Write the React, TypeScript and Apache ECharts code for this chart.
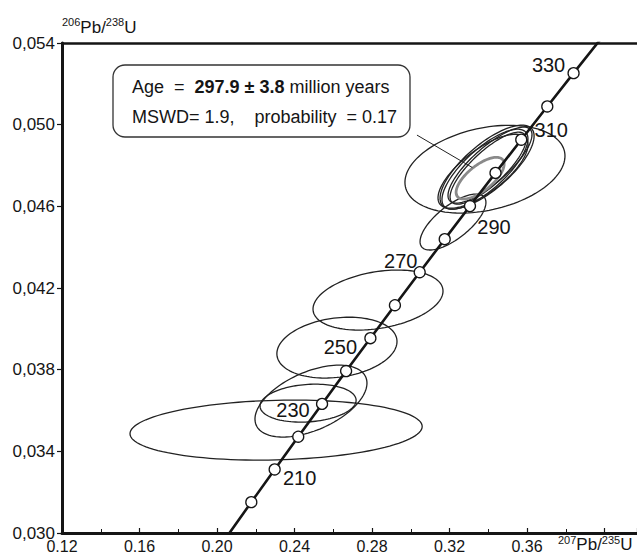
import React, { useEffect, useRef } from 'react';
import * as echarts from 'echarts';

// Concordia curve (age in Ma, 207Pb/235U, 206Pb/238U)
const concordiaAges = [190, 200, 210, 220, 230, 240, 250, 260, 270, 280, 290, 300, 310, 320, 330, 340];
const concordiaX = [0.205773, 0.217708, 0.229759, 0.241931, 0.254222, 0.266635, 0.279172, 0.291831, 0.304616, 0.317529, 0.330569, 0.343738, 0.357037, 0.370468, 0.38403, 0.39773];
const concordiaY = [0.029912, 0.031511, 0.033113, 0.034716, 0.036323, 0.037932, 0.039543, 0.041157, 0.042773, 0.044392, 0.046013, 0.047637, 0.049264, 0.050893, 0.052524, 0.054158];
const markerAges = [200, 210, 220, 230, 240, 250, 260, 270, 280, 290, 300, 310, 320, 330];
const labelledAges = [210, 230, 250, 270, 290, 310, 330];

// Analysis error ellipses: centre, half-widths, error correlation
const ellipseCx = [0.2305, 0.2485, 0.2470, 0.2619, 0.2831, 0.3218, 0.3383, 0.3394, 0.3383, 0.3409, 0.3373, 0.3399];
const ellipseCy = [0.03504, 0.03646, 0.03636, 0.03908, 0.04141, 0.04523, 0.04782, 0.04792, 0.04782, 0.04802, 0.04772, 0.04787];
const ellipseSx = [0.0754, 0.0289, 0.0248, 0.0310, 0.03355, 0.0170, 0.0413, 0.02426, 0.02219, 0.02168, 0.02323, 0.01961];
const ellipseSy = [0.00147, 0.00176, 0.00093, 0.00149, 0.00147, 0.00137, 0.00215, 0.002056, 0.001958, 0.00186, 0.001812, 0.001763];
const ellipseRho = [0.12, 0.5, 0.15, 0.2, 0.3, 0.7, 0.3, 0.74, 0.76, 0.8, 0.72, 0.8];

// Concordia age ellipse (weighted mean)
const meanCx = [0.3358];
const meanCy = [0.04738];
const meanSx = [0.0124];
const meanSy = [0.00102];
const meanRho = [0.68];

// Axis ticks
const xTickLabels = ['0.12', '0.16', '0.20', '0.24', '0.28', '0.32', '0.36'];
const yTickLabels = ['0,030', '0,034', '0,038', '0,042', '0,046', '0,050', '0,054'];

// Annotation arrow
const arrowFrom = [0.3032, 0.04949];
const arrowTo = [0.3318, 0.0479];

const FONT = "'Liberation Sans', Arial, Helvetica, sans-serif";
const INK = '#151515';

const labelOffsets: Record<number, [number, number]> = {
  330: [-25, -8],
  310: [30, -10],
  290: [24, 21],
  270: [-19, -11],
  250: [-30, 9],
  230: [-29, 6],
  210: [25, 9],
};

function ellipseRenderer(stroke: string, width: number) {
  return (params: any, api: any) => {
    const cx = api.value(0);
    const cy = api.value(1);
    const sx = api.value(2);
    const sy = api.value(3);
    const rho = api.value(4);
    const k = Math.sqrt(1 - rho * rho);
    const pts: number[][] = [];
    const n = 120;
    for (let i = 0; i < n; i++) {
      const t = (i / n) * Math.PI * 2;
      const x = cx + sx * Math.cos(t);
      const y = cy + sy * (rho * Math.cos(t) + k * Math.sin(t));
      pts.push(api.coord([x, y]));
    }
    return {
      type: 'polygon',
      shape: { points: pts },
      style: { fill: 'none', stroke, lineWidth: width },
    };
  };
}

export default function App() {
  const ref = useRef<HTMLDivElement>(null);

  useEffect(() => {
    if (!ref.current) return;
    const chart = echarts.init(ref.current, null, { renderer: 'svg' });

    const xMin = 0.12;
    const xMax = 0.41677;

    const ellipseData = ellipseCx.map((cx, i) => [cx, ellipseCy[i], ellipseSx[i], ellipseSy[i], ellipseRho[i]]);
    const meanData = meanCx.map((cx, i) => [cx, meanCy[i], meanSx[i], meanSy[i], meanRho[i]]);
    const lineData = concordiaAges.map((a, i) => [concordiaX[i], concordiaY[i]]);
    const markerData = markerAges.map((age) => {
      const i = concordiaAges.indexOf(age);
      const labelled = labelledAges.includes(age);
      return {
        value: [concordiaX[i], concordiaY[i]],
        label: labelled
          ? { show: true, formatter: String(age), offset: labelOffsets[age] }
          : { show: false },
      };
    });

    const option: any = {
      animation: false,
      textStyle: { fontFamily: FONT },
      grid: { left: 62, right: 0, top: 43, bottom: 23, containLabel: false, outerBoundsMode: 'none' },
      xAxis: [
        {
          type: 'value',
          min: xMin,
          max: xMax,
          interval: 0.04,
          name: '{s|207}{n|Pb/}{s|235}{n|U}',
          nameLocation: 'end',
          nameGap: -79,
          nameTextStyle: {
            align: 'left',
            verticalAlign: 'top',
            padding: [1, 0, 0, 0],
            rich: {
              n: { fontSize: 17, lineHeight: 20, color: INK, fontFamily: FONT },
              s: { fontSize: 11, lineHeight: 10, color: INK, fontFamily: FONT, verticalAlign: 'top' },
            },
          },
          splitLine: { show: false },
          axisLine: { show: true, onZero: false, lineStyle: { color: INK, width: 3 } },
          axisTick: { show: true, inside: true, length: 5, lineStyle: { color: INK, width: 1.2 } },
          minorTick: { show: true, splitNumber: 2, length: 4, lineStyle: { color: INK, width: 1 } },
          axisLabel: {
            margin: 5,
            fontSize: 16,
            color: INK,
            fontFamily: FONT,
            formatter: (v: number) => {
              const s = v.toFixed(2);
              return xTickLabels.includes(s) ? s : '';
            },
          },
        },
        {
          type: 'value',
          position: 'top',
          min: xMin,
          max: xMax,
          interval: 0.04,
          axisLine: { show: true, onZero: false, lineStyle: { color: INK, width: 2.5 } },
          axisTick: { show: false },
          axisLabel: { show: false },
          splitLine: { show: false },
        },
      ],
      yAxis: {
        type: 'value',
        min: 0.03,
        max: 0.054,
        interval: 0.004,
        name: '{s|206}{n|Pb/}{s|238}{n|U}',
        nameLocation: 'end',
        nameGap: 5,
        nameTextStyle: {
          align: 'left',
          verticalAlign: 'bottom',
          rich: {
            n: { fontSize: 17, lineHeight: 22, color: INK, fontFamily: FONT },
            s: { fontSize: 11, lineHeight: 10, color: INK, fontFamily: FONT, verticalAlign: 'top' },
          },
        },
        splitLine: { show: false },
        axisLine: { show: true, onZero: false, lineStyle: { color: INK, width: 3 } },
        axisTick: { show: true, inside: false, length: 5, lineStyle: { color: INK, width: 1.2 } },
        axisLabel: {
          margin: 7,
          fontSize: 17,
          color: INK,
          fontFamily: FONT,
          formatter: (v: number) => {
            const s = v.toFixed(3).replace('.', ',');
            return yTickLabels.includes(s) ? s : '';
          },
        },
      },
      series: [
        {
          type: 'custom',
          name: 'analyses',
          z: 2,
          silent: true,
          dimensions: ['cx', 'cy', 'sx', 'sy', 'rho'],
          encode: { x: 0, y: 1 },
          data: ellipseData,
          renderItem: ellipseRenderer('#222222', 1.3),
        },
        {
          type: 'custom',
          name: 'concordia age',
          z: 3,
          silent: true,
          dimensions: ['cx', 'cy', 'sx', 'sy', 'rho'],
          encode: { x: 0, y: 1 },
          data: meanData,
          renderItem: ellipseRenderer('#8a8a8a', 2.8),
        },
        {
          type: 'line',
          name: 'concordia',
          z: 4,
          silent: true,
          showSymbol: false,
          smooth: false,
          clip: true,
          data: lineData,
          lineStyle: { color: INK, width: 2.6 },
          markLine: {
            silent: true,
            symbol: ['none', 'arrow'],
            symbolSize: [0, 11],
            label: { show: false },
            lineStyle: { color: '#222', width: 1, type: 'solid' },
            data: [[{ coord: arrowFrom }, { coord: arrowTo }]],
          },
        },
        {
          type: 'scatter',
          name: 'age marks',
          z: 5,
          silent: true,
          symbol: 'circle',
          symbolSize: 11,
          itemStyle: { color: '#ffffff', borderColor: INK, borderWidth: 1.3, opacity: 1 },
          label: {
            position: 'inside',
            fontSize: 20,
            color: INK,
            fontFamily: FONT,
          },
          data: markerData,
        },
      ],
      graphic: [
        {
          type: 'rect',
          z: 100,
          shape: { x: 113, y: 65, width: 297, height: 72, r: 12 },
          style: { fill: '#ffffff', stroke: '#333333', lineWidth: 1.3 },
        },
        {
          type: 'text',
          z: 101,
          x: 132,
          y: 72,
          style: {
            text: '{n|Age  =  }{b|297.9 ± 3.8}{n| million years}\n{n|MSWD= 1.9,    probability  = 0.17}',
            align: 'left',
            verticalAlign: 'top',
            rich: {
              n: { fontSize: 18, lineHeight: 30, fill: INK, fontFamily: FONT },
              b: { fontSize: 18, lineHeight: 30, fill: INK, fontFamily: FONT, fontWeight: 'bold' },
            },
          },
        },
      ],
    };

    chart.setOption(option);
    return () => chart.dispose();
  }, []);

  return (
    <div
      ref={ref}
      style={{ position: 'fixed', left: 0, top: 0, width: 637, height: 556, background: '#fff' }}
    />
  );
}
